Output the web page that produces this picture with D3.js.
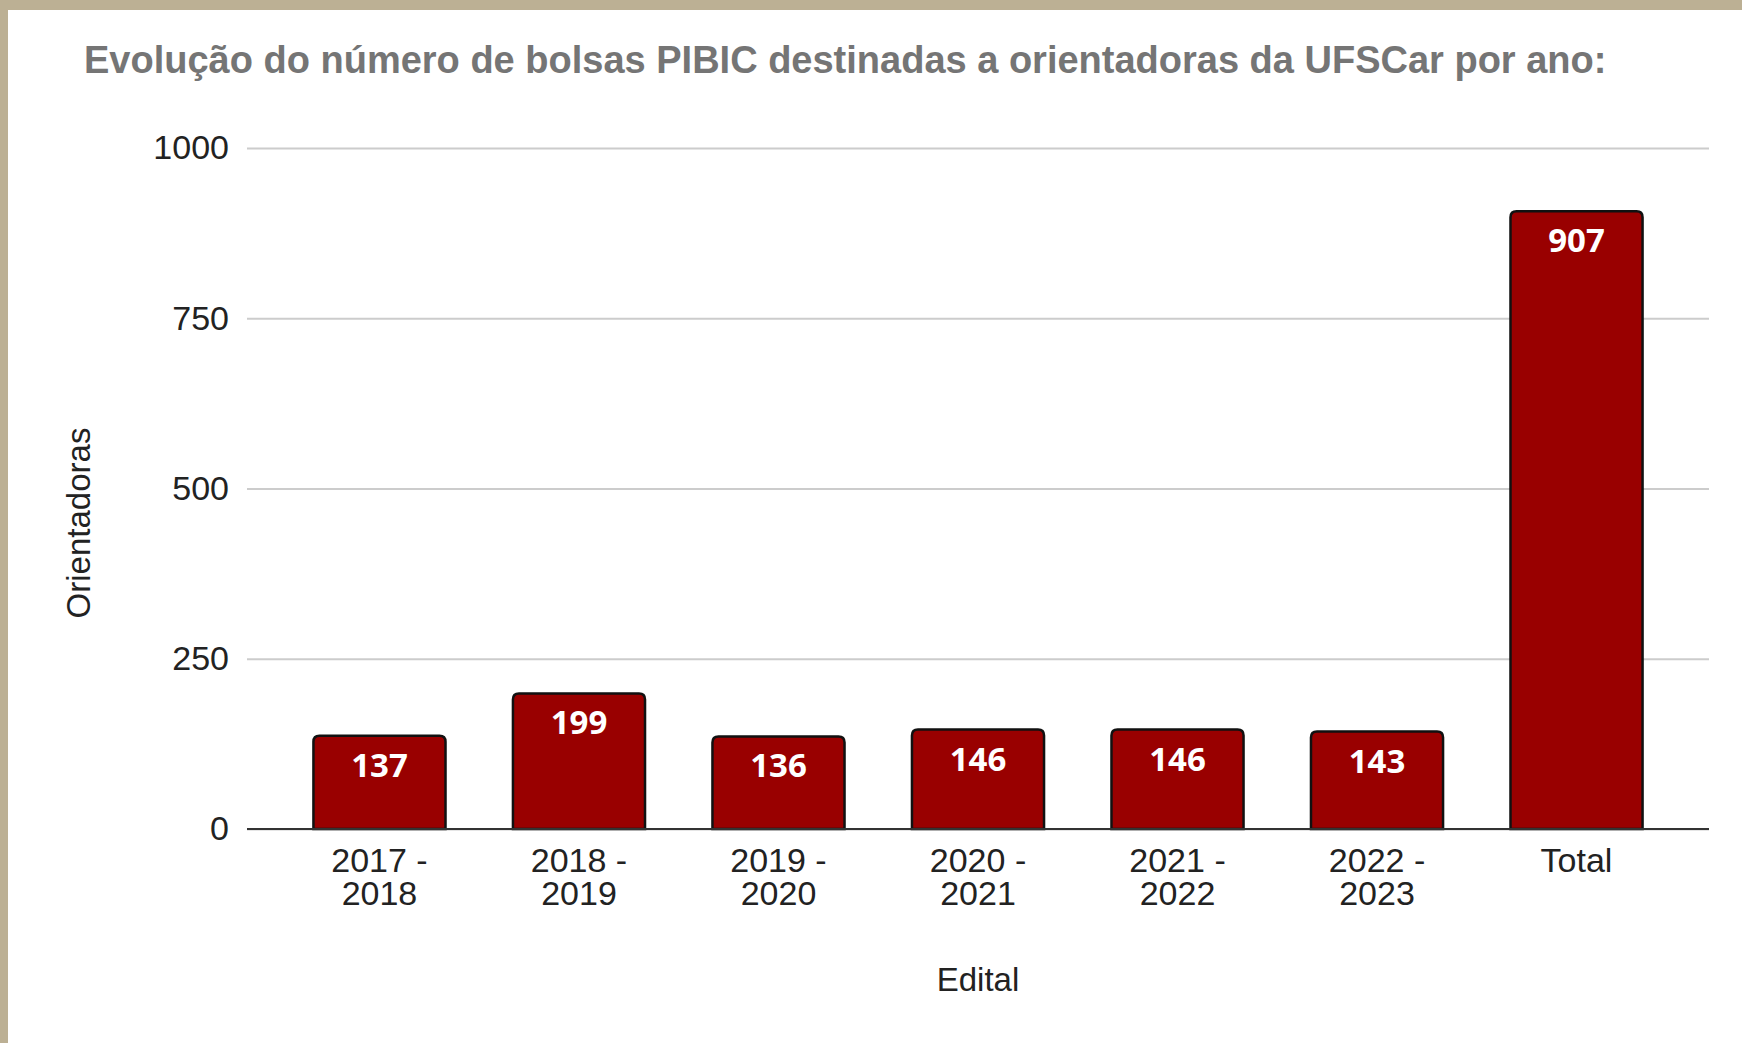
<!DOCTYPE html>
<html>
<head>
<meta charset="utf-8">
<script src="https://cdn.jsdelivr.net/npm/d3@7"></script>
<style>
  html, body { margin: 0; padding: 0; background: #fff; }
  svg { display: block; }
</style>
</head>
<body>
<div id="chart"></div>
<script>
// data
var categories = ["2017 - 2018", "2018 - 2019", "2019 - 2020", "2020 - 2021", "2021 - 2022", "2022 - 2023", "Total"];
var values = [137, 199, 136, 146, 146, 143, 907];
var yTicks = [0, 250, 500, 750, 1000];

var W = 1742, H = 1043;
var plot = { left: 247, right: 1709, top: 148, bottom: 829 };

var svg = d3.select("#chart").append("svg")
    .attr("width", W)
    .attr("height", H);

// frame (beige strip top and left)
svg.append("rect").attr("x", 0).attr("y", 0).attr("width", W).attr("height", 10).attr("fill", "#bcb094");
svg.append("rect").attr("x", 0).attr("y", 0).attr("width", 8).attr("height", H).attr("fill", "#bcb094");

var x = d3.scaleBand()
    .domain(categories)
    .range([plot.left, plot.right])
    .paddingInner(0.338)
    .paddingOuter(0.333);

var y = d3.scaleLinear()
    .domain([0, 1000])
    .range([plot.bottom, plot.top]);

// title
svg.append("text")
    .attr("x", 84)
    .attr("y", 73)
    .attr("font-family", "Liberation Sans, Arial, sans-serif")
    .attr("font-weight", "bold")
    .attr("font-size", 38)
    .attr("fill", "#757575")
    .text("Evolução do número de bolsas PIBIC destinadas a orientadoras da UFSCar por ano:");

// gridlines + y labels
var yAxis = d3.axisLeft(y)
    .tickValues(yTicks)
    .tickFormat(d3.format("d"))
    .tickSize(-(plot.right - plot.left))
    .tickPadding(18);

var gy = svg.append("g")
    .attr("transform", "translate(" + plot.left + ",0)")
    .call(yAxis);
gy.select(".domain").remove();
gy.selectAll(".tick line")
    .attr("stroke", "#cccccc")
    .attr("stroke-width", 2);
gy.selectAll(".tick text")
    .attr("font-family", "Liberation Sans, Arial, sans-serif")
    .attr("font-size", 34)
    .attr("fill", "#222");

// bars with rounded tops
var r = 6;
function barPath(d, i) {
  var x0 = x(categories[i]), x1 = x0 + x.bandwidth();
  var y0 = y(0), y1 = y(d);
  return "M" + x0 + "," + y0 +
    "L" + x0 + "," + (y1 + r) +
    "Q" + x0 + "," + y1 + " " + (x0 + r) + "," + y1 +
    "L" + (x1 - r) + "," + y1 +
    "Q" + x1 + "," + y1 + " " + x1 + "," + (y1 + r) +
    "L" + x1 + "," + y0 + "Z";
}

svg.append("g").selectAll("path")
    .data(values)
    .enter().append("path")
    .attr("d", barPath)
    .attr("fill", "#990000")
    .attr("stroke", "#111")
    .attr("stroke-width", 2.5);

// value labels
svg.append("g").selectAll("text")
    .data(values)
    .enter().append("text")
    .attr("x", (d, i) => x(categories[i]) + x.bandwidth() / 2)
    .attr("y", d => y(d) + 41)
    .attr("text-anchor", "middle")
    .attr("font-family", "Open Sans, sans-serif")
    .attr("font-weight", "bold")
    .attr("font-size", 33)
    .attr("fill", "#fff")
    .text(d => d);

// baseline
svg.append("line")
    .attr("x1", plot.left).attr("x2", plot.right)
    .attr("y1", y(0)).attr("y2", y(0))
    .attr("stroke", "#333")
    .attr("stroke-width", 2);

// x labels, two lines
var xl = svg.append("g").selectAll("text")
    .data(categories)
    .enter().append("text")
    .attr("x", d => x(d) + x.bandwidth() / 2)
    .attr("y", y(0) + 43)
    .attr("text-anchor", "middle")
    .attr("font-family", "Liberation Sans, Arial, sans-serif")
    .attr("font-size", 34)
    .attr("fill", "#222");

xl.each(function (d) {
  var parts = d.indexOf(" - ") > 0 ? [d.split(" - ")[0] + " -", d.split(" - ")[1]] : [d];
  var t = d3.select(this);
  parts.forEach(function (p, k) {
    t.append("tspan")
      .attr("x", x(d) + x.bandwidth() / 2)
      .attr("dy", k === 0 ? 0 : 33)
      .text(p);
  });
});

// axis titles
svg.append("text")
    .attr("x", (plot.left + plot.right) / 2)
    .attr("y", 991)
    .attr("text-anchor", "middle")
    .attr("font-family", "Liberation Sans, Arial, sans-serif")
    .attr("font-size", 33)
    .attr("fill", "#222")
    .text("Edital");

svg.append("text")
    .attr("transform", "translate(90,523) rotate(-90)")
    .attr("text-anchor", "middle")
    .attr("font-family", "Liberation Sans, Arial, sans-serif")
    .attr("font-size", 33)
    .attr("fill", "#222")
    .text("Orientadoras");
</script>
</body>
</html>
